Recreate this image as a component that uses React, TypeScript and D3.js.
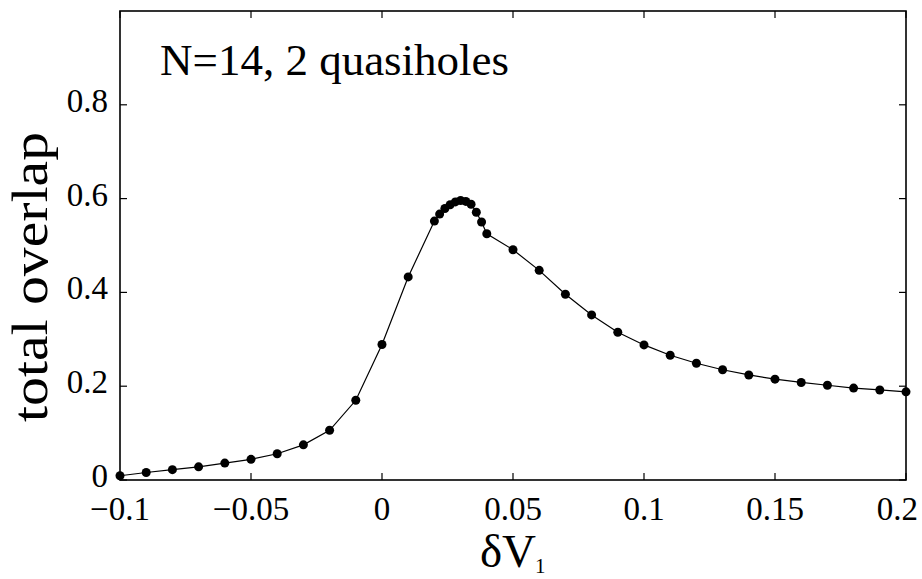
import React from "react";
import * as d3 from "d3";

const xValues = [
  -0.1, -0.09, -0.08, -0.07, -0.06, -0.05, -0.04, -0.03, -0.02, -0.01, 0, 0.01,
  0.02, 0.022, 0.024, 0.026, 0.028, 0.03, 0.032, 0.034, 0.036, 0.038, 0.04,
  0.05, 0.06, 0.07, 0.08, 0.09, 0.1, 0.11, 0.12, 0.13, 0.14, 0.15, 0.16, 0.17,
  0.18, 0.19, 0.2,
];
const overlapValues = [
  0.009, 0.016, 0.022, 0.028, 0.036, 0.044, 0.056, 0.075, 0.106, 0.17, 0.289,
  0.433, 0.552, 0.567, 0.579, 0.587, 0.593, 0.596, 0.594, 0.588, 0.571, 0.55,
  0.525, 0.491, 0.447, 0.396, 0.352, 0.315, 0.288, 0.266, 0.249, 0.235, 0.224,
  0.215, 0.208, 0.202, 0.196, 0.192, 0.188,
];
const xTicks = [-0.1, -0.05, 0, 0.05, 0.1, 0.15, 0.2];
const xTickLabels = ["\u22120.1", "\u22120.05", "0", "0.05", "0.1", "0.15", "0.2"];
const yTicks = [0, 0.2, 0.4, 0.6, 0.8];
const yTickLabels = ["0", "0.2", "0.4", "0.6", "0.8"];
const titleText = "N=14, 2 quasiholes";
const yLabel = "total overlap";

const W = 922;
const H = 579;
const left = 120;
const right = 906;
const top = 11;
const bottom = 480;
const font = "'Liberation Serif', 'Times New Roman', serif";

export default function App() {
  const x = d3.scaleLinear().domain([-0.1, 0.2]).range([left, right]);
  const y = d3.scaleLinear().domain([0, 1]).range([bottom, top]);
  const pts = xValues.map((v, i) => [v, overlapValues[i]] as [number, number]);
  const line = d3
    .line<[number, number]>()
    .x((d) => x(d[0]))
    .y((d) => y(d[1]));
  const tl = 7;
  const lastX = xTicks.length - 1;
  return (
    <svg
      width={W}
      height={H}
      style={{ position: "absolute", left: 0, top: 0, background: "#fff" }}
    >
      <rect x={0} y={0} width={W} height={H} fill="#fff" />
      {xTicks.map((t, i) => (
        <g key={"xt" + i}>
          <line x1={x(t)} x2={x(t)} y1={bottom} y2={bottom - tl} stroke="#000" strokeWidth={1.2} />
          <line x1={x(t)} x2={x(t)} y1={top} y2={top + tl} stroke="#000" strokeWidth={1.2} />
          <text
            x={i === lastX ? W - 4 : x(t)}
            y={520}
            textAnchor={i === lastX ? "end" : "middle"}
            fontFamily={font}
            fontSize={33}
            fill="#000"
          >
            {xTickLabels[i]}
          </text>
        </g>
      ))}
      {yTicks.map((t, i) => (
        <g key={"yt" + i}>
          <line x1={left} x2={left + tl} y1={y(t)} y2={y(t)} stroke="#000" strokeWidth={1.2} />
          <line x1={right} x2={right - tl} y1={y(t)} y2={y(t)} stroke="#000" strokeWidth={1.2} />
          <text
            x={108}
            y={y(t) + 7}
            textAnchor="end"
            fontFamily={font}
            fontSize={33}
            fill="#000"
          >
            {yTickLabels[i]}
          </text>
        </g>
      ))}
      <rect
        x={left}
        y={top}
        width={right - left}
        height={bottom - top}
        fill="none"
        stroke="#000"
        strokeWidth={1.6}
      />
      <path d={line(pts) || ""} fill="none" stroke="#000" strokeWidth={1.2} />
      {pts.map((d, i) => (
        <circle key={"p" + i} cx={x(d[0])} cy={y(d[1])} r={4.5} fill="#000" />
      ))}
      <text x={160} y={75} fontFamily={font} fontSize={45} fill="#000">
        {titleText}
      </text>
      <text
        transform={`translate(47, 277) rotate(-90)`}
        textAnchor="middle"
        fontFamily={font}
        fontSize={50}
        textLength={290}
        lengthAdjust="spacingAndGlyphs"
        fill="#000"
      >
        {yLabel}
      </text>
      <text x={508} y={567} textAnchor="middle" fontFamily={font} fontSize={47} fill="#000">
        {"\u03b4V"}
      </text>
      <text x={535} y={573} fontFamily={font} fontSize={21} fill="#000">
        1
      </text>
    </svg>
  );
}
